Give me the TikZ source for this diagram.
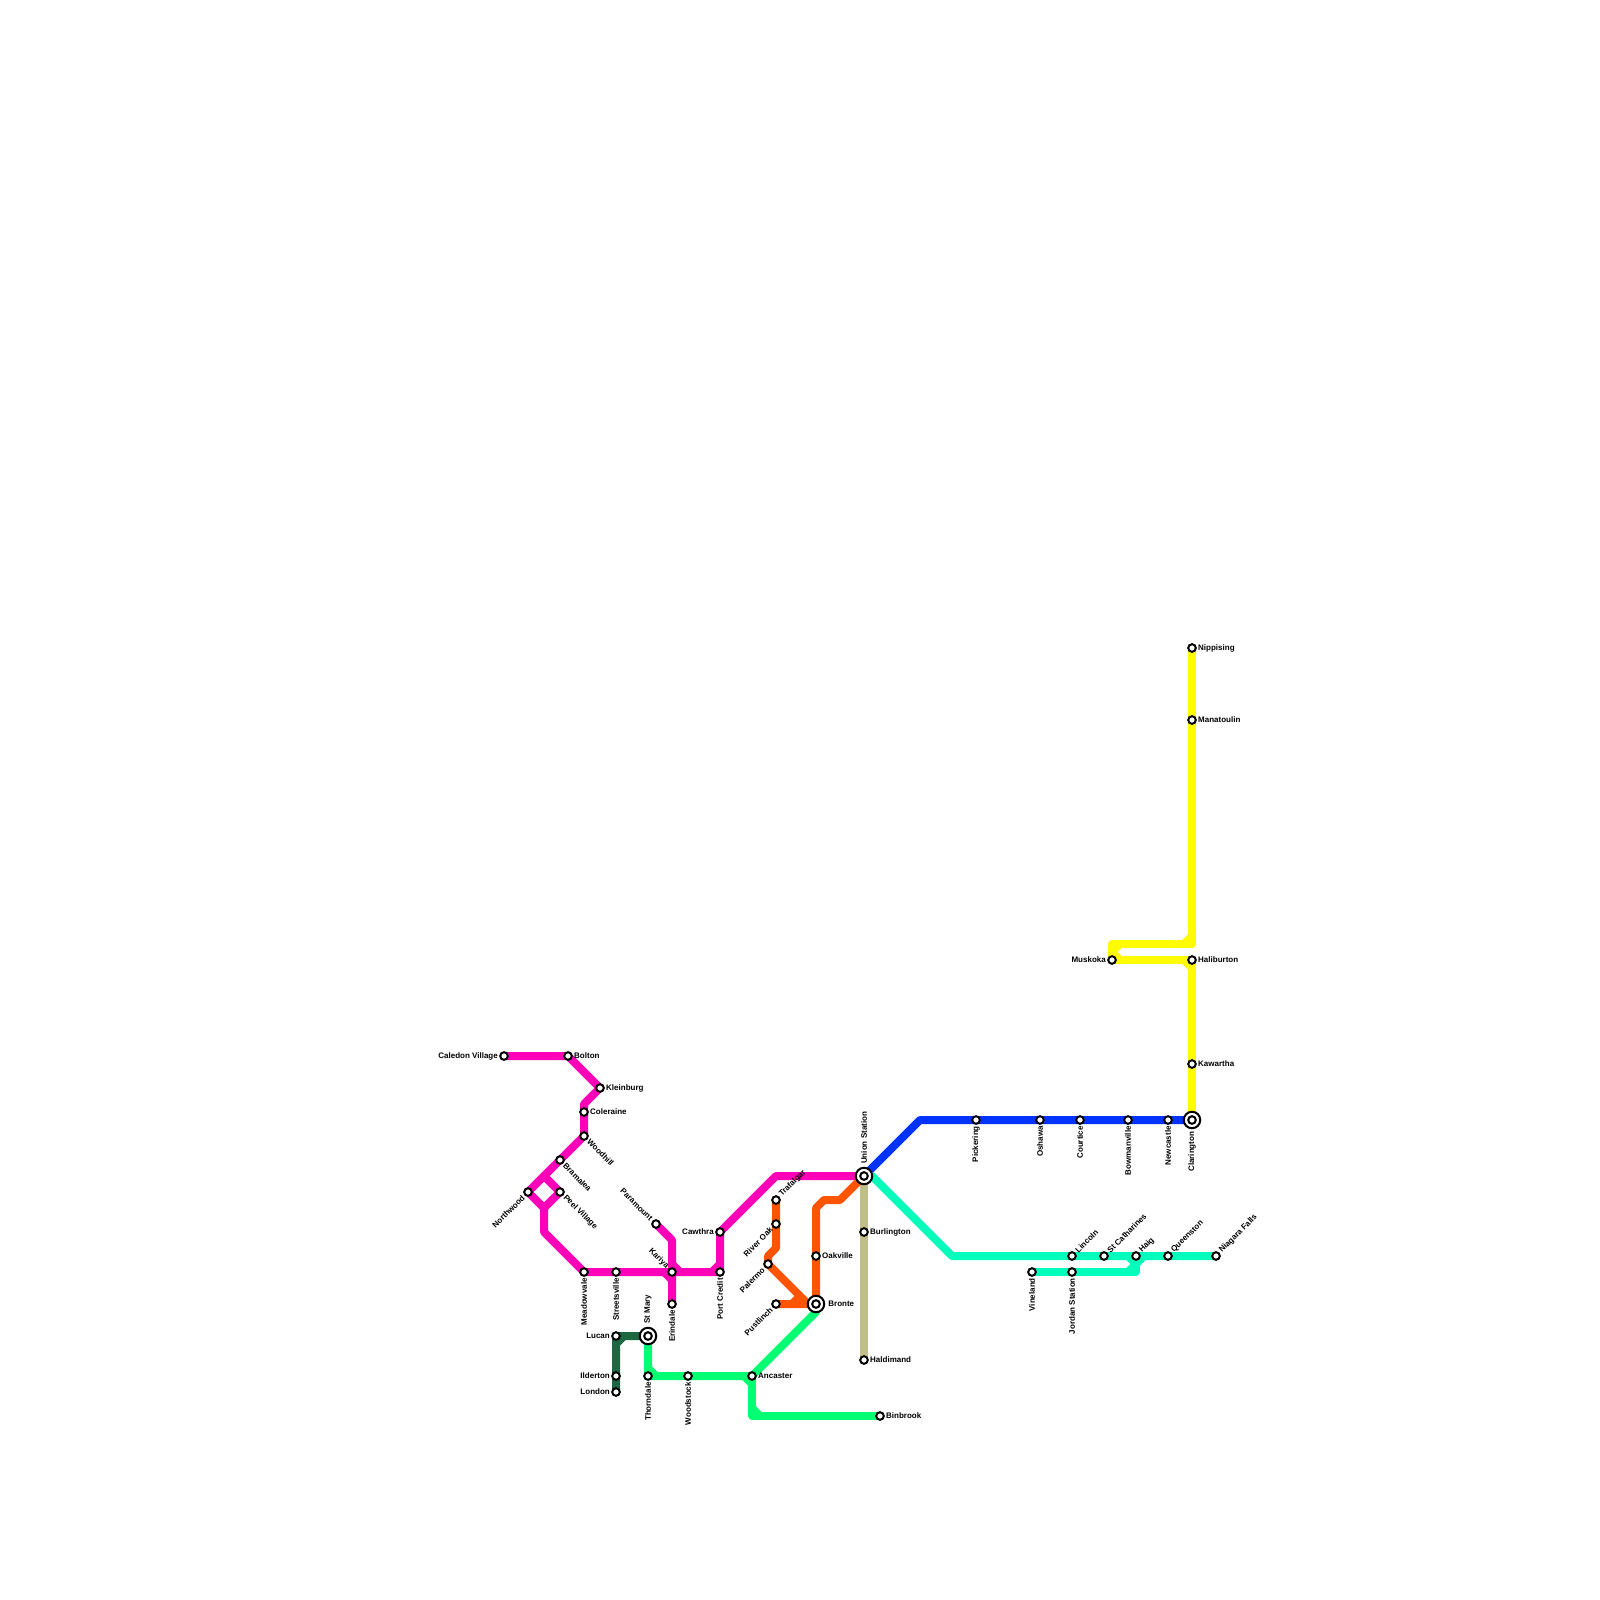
\documentclass[tikz,border=0pt]{standalone}
\usepackage{fontspec}
\setmainfont{Liberation Sans}
\usetikzlibrary{backgrounds}
\definecolor{cMag}{HTML}{FF00B8}
\definecolor{cOrg}{HTML}{FF5500}
\definecolor{cTan}{HTML}{BFBF88}
\definecolor{cBlu}{HTML}{0033FF}
\definecolor{cTea}{HTML}{00FFBB}
\definecolor{cGrn}{HTML}{00FF73}
\definecolor{cDrk}{HTML}{1E6640}
\definecolor{cYel}{HTML}{FFFB00}
\tikzset{
  x=1pt,y=-1pt,
  stn/.style={circle,draw=black,fill=white,line width=2pt,minimum size=7.6pt,inner sep=0pt},
  hub/.style={circle,draw=black,fill=white,line width=2pt,minimum size=16.5pt,inner sep=0pt},
  lbl/.style={inner sep=0pt,font=\bfseries\fontsize{8}{9}\selectfont,text=black},
  lE/.style={lbl,anchor=east,xshift=-6pt},
  lW/.style={lbl,anchor=west,xshift=6pt},
  lWW/.style={lbl,anchor=west,xshift=12.2pt},
  lDR/.style={lbl,xshift=4.5pt,yshift=-4.5pt,anchor=west,rotate=-45},
  lUL/.style={lbl,xshift=-4.5pt,yshift=4.5pt,anchor=east,rotate=-45},
  lDL/.style={lbl,xshift=-4.5pt,yshift=-4.5pt,anchor=east,rotate=45},
  lUR/.style={lbl,xshift=4.5pt,yshift=4.5pt,anchor=west,rotate=45},
  lD/.style={lbl,yshift=-6pt,anchor=east,rotate=90},
  lDD/.style={lbl,yshift=-11.5pt,anchor=east,rotate=90},
  lUU/.style={lbl,yshift=12pt,anchor=west,rotate=90},
  mline/.style={line width=8pt,line cap=round,line join=round},
}
\newcommand{\st}[5]{\node[stn] (#1) at (#2,#3) {}; \node[#4] (#1-l) at (#2,#3) {#5};}
\newcommand{\hb}[5]{\node[hub] (#1) at (#2,#3) {}; \node[stn] (#1-i) at (#2,#3) {}; \node[#4] (#1-l) at (#2,#3) {#5};}
\begin{document}
\begin{tikzpicture}
\useasboundingbox (0,0) rectangle (1600,1600);
% magenta
\st{caledon}{504}{1056}{lE}{Caledon Village}
\st{bolton}{568}{1056}{lW}{Bolton}
\st{kleinburg}{600}{1088}{lW}{Kleinburg}
\st{coleraine}{584}{1112}{lW}{Coleraine}
\st{woodhill}{584}{1136}{lDR}{Woodhill}
\st{bramalea}{560}{1160}{lDR}{Bramalea}
\st{northwood}{528}{1192}{lDL}{Northwood}
\st{peel}{560}{1192}{lDR}{Peel Village}
\st{meadowvale}{584}{1272}{lD}{Meadowvale}
\st{streetsville}{616}{1272}{lD}{Streetsville}
\st{kariya}{672}{1272}{lUL}{Kariya}
\st{paramount}{656}{1224}{lUL}{Paramount}
\st{erindale}{672}{1304}{lD}{Erindale}
\st{cawthra}{720}{1232}{lE}{Cawthra}
\st{portcredit}{720}{1272}{lD}{Port Credit}
% hubs
\hb{union}{864}{1176}{lUU}{Union Station}
\hb{bronte}{816}{1304}{lWW}{Bronte}
\hb{stmary}{648}{1336}{lUU}{St Mary}
\hb{clarington}{1192}{1120}{lDD}{Clarington}
% orange
\st{trafalgar}{776}{1200}{lUR}{Trafalgar}
\st{riveroak}{776}{1224}{lDL}{River Oak}
\st{palermo}{768}{1264}{lDL}{Palermo}
\st{pustlinch}{776}{1304}{lDL}{Pustlinch}
\st{oakville}{816}{1256}{lW}{Oakville}
% tan
\st{burlington}{864}{1232}{lW}{Burlington}
\st{haldimand}{864}{1360}{lW}{Haldimand}
% dark green
\st{lucan}{616}{1336}{lE}{Lucan}
\st{ilderton}{616}{1376}{lE}{Ilderton}
\st{london}{616}{1392}{lE}{London}
% green
\st{thorndale}{648}{1376}{lD}{Thorndale}
\st{woodstock}{688}{1376}{lD}{Woodstock}
\st{ancaster}{752}{1376}{lW}{Ancaster}
\st{binbrook}{880}{1416}{lW}{Binbrook}
% teal
\st{lincoln}{1072}{1256}{lUR}{Lincoln}
\st{stcath}{1104}{1256}{lUR}{St Catharines}
\st{haig}{1136}{1256}{lUR}{Haig}
\st{queenston}{1168}{1256}{lUR}{Queenston}
\st{niagara}{1216}{1256}{lUR}{Niagara Falls}
\st{vineland}{1032}{1272}{lD}{Vineland}
\st{jordan}{1072}{1272}{lD}{Jordan Station}
% blue
\st{pickering}{976}{1120}{lD}{Pickering}
\st{oshawa}{1040}{1120}{lD}{Oshawa}
\st{courtice}{1080}{1120}{lD}{Courtice}
\st{bowmanville}{1128}{1120}{lD}{Bowmanville}
\st{newcastle}{1168}{1120}{lD}{Newcastle}
% yellow
\st{nippising}{1192}{648}{lW}{Nippising}
\st{manatoulin}{1192}{720}{lW}{Manatoulin}
\st{haliburton}{1192}{960}{lW}{Haliburton}
\st{muskoka}{1112}{960}{lE}{Muskoka}
\st{kawartha}{1192}{1064}{lW}{Kawartha}
\begin{scope}[on background layer]
\begin{scope}[mline]
 \fill[white] (0,0) rectangle (1600,1600);
 \draw[cMag] (caledon.center) -- (bolton.center) -- (kleinburg.center) -- (584,1104) -- (coleraine.center) -- (woodhill.center) -- (bramalea.center) -- (northwood.center) -- (544,1208) -- (544,1232) -- (meadowvale.center) -- (streetsville.center) -- (kariya.center) -- (portcredit.center) -- (cawthra.center) -- (776,1176) -- (union.center);
 \draw[cMag] (544,1176) -- (peel.center) -- (544,1208);
 \draw[cMag] (paramount.center) -- (672,1240) -- (erindale.center);
 \draw[cMag] (672,1264) -- (680,1272) (664,1272) -- (672,1280) (712,1272) -- (720,1264);
 \draw[cTan,line cap=butt] (union.center) -- (haldimand.center);
 \draw[cOrg] (union.center) -- (840,1200) -- (824,1200) -- (816,1208) -- (bronte.center);
 \draw[cOrg] (trafalgar.center) -- (776,1248) -- (768,1256) -- (palermo.center) -- (808,1304);
 \draw[cOrg] (pustlinch.center) -- (bronte.center) (792,1304) -- (800,1296);
 \draw[cGrn] (stmary.center) -- (thorndale.center) -- (ancaster.center) -- (816,1312) -- (bronte.center);
 \draw[cGrn] (ancaster.center) -- (752,1416) -- (binbrook.center);
 \draw[cGrn] (648,1368) -- (656,1376) (744,1376) -- (752,1384) (752,1408) -- (760,1416);
 \draw[cDrk] (stmary.center) -- (lucan.center) -- (london.center) (616,1344) -- (624,1336);
 \draw[cBlu] (union.center) -- (920,1120) -- (clarington.center);
 \draw[cTea] (union.center) -- (872,1176) -- (952,1256) -- (niagara.center);
 \draw[cTea] (vineland.center) -- (1136,1272) -- (haig.center);
 \draw[cTea] (1128,1256) -- (1136,1264) -- (1144,1256) (1128,1272) -- (1136,1264);
 \draw[cYel] (clarington.center) -- (haliburton.center) -- (muskoka.center) -- (1112,944) -- (1192,944) -- (nippising.center);
 \draw[cYel] (1184,960) -- (1192,968) (1184,944) -- (1192,936) (1112,952) -- (1120,944) (1112,952) -- (1120,960);
\end{scope}
\end{scope}
\end{tikzpicture}
\end{document}
